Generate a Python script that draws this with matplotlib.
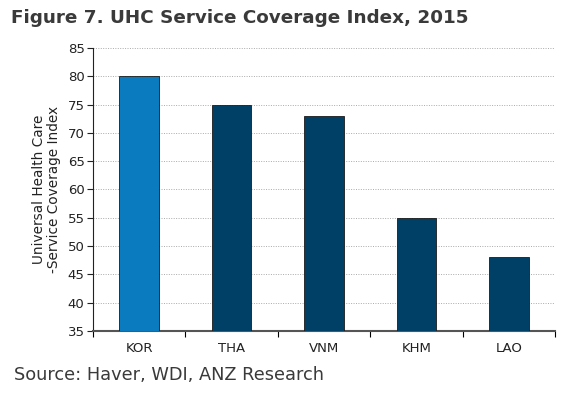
import numpy as np
import matplotlib
matplotlib.use("Agg")
import matplotlib.pyplot as plt

# data
countries = ["KOR", "THA", "VNM", "KHM", "LAO"]
uhc_index = [80, 75, 73, 55, 48]
bar_colors = ["#0A7BBE", "#003F66", "#003F66", "#003F66", "#003F66"]
y_ticks = [35, 40, 45, 50, 55, 60, 65, 70, 75, 80, 85]

plt.rcParams['font.family'] = ['DejaVu Sans']

fig = plt.figure(figsize=(5.7, 3.93), dpi=100)
ax = fig.add_axes([0.163, 0.158, 0.811, 0.72])

x = np.arange(len(countries))
ax.bar(x, np.array(uhc_index) - 35, bottom=35, width=0.43, color=bar_colors,
       edgecolor="#1a1a1a", linewidth=0.6, zorder=3)

ax.set_ylim(35, 85)
ax.set_xlim(-0.5, len(countries) - 0.5)
ax.set_yticks(y_ticks)
ax.tick_params(axis='y', labelsize=9.5, length=4, width=0.8, pad=2, colors='#222222')
ax.set_xticks(x)
ax.set_xticklabels(countries)
ax.tick_params(axis='x', which='major', length=0, labelsize=9.5, pad=8, colors='#222222')
ax.set_xticks(np.arange(len(countries) + 1) - 0.5, minor=True)
ax.tick_params(axis='x', which='minor', length=4, width=0.8, direction='out')

ax.grid(axis='y', color='#aaaaaa', linestyle=(0, (1, 1.5)), linewidth=0.7, zorder=0)
for s in ['top', 'right']:
    ax.spines[s].set_visible(False)
ax.spines['left'].set_color('#222222')
ax.spines['bottom'].set_color('#555555')
ax.spines['bottom'].set_linewidth(1.5)

ax.set_ylabel("Universal Health Care\n-Service Coverage Index", fontsize=9.8,
              color='#222222', labelpad=5, linespacing=1.1)

fig.text(0.02, 0.955, "Figure 7. UHC Service Coverage Index, 2015", fontsize=13.2,
         fontweight='bold', color='#3a3a3a', va='center', ha='left')
fig.text(0.025, 0.045, "Source: Haver, WDI, ANZ Research", fontsize=12.8,
         color='#3a3a3a', va='center', ha='left')

fig.savefig("out.png", dpi=100)
